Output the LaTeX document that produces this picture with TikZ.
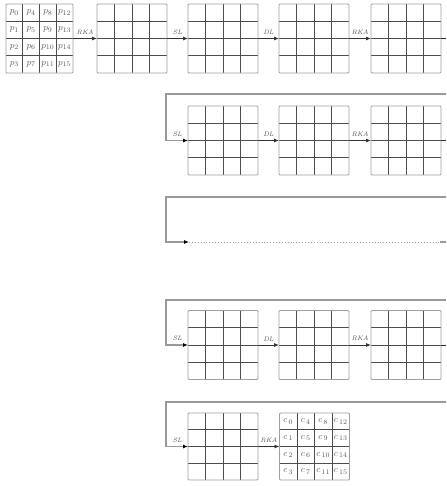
\documentclass[tikz,border=0pt]{standalone}
\usetikzlibrary{arrows.meta,calc}
\begin{document}
\begin{tikzpicture}[x=1pt,y=-1pt,
  gridlines/.style={black!70,line width=0.9pt},
  gridbox/.style={draw=gray!75, line width=0.9pt, rounded corners=1pt,
    minimum width=70pt, minimum height=69pt, inner sep=0pt, outer sep=0pt,
    path picture={\foreach \f in {0.25,0.5,0.75}{
      \draw[gridlines] ($(path picture bounding box.south west)!\f!(path picture bounding box.south east)$) -- ($(path picture bounding box.north west)!\f!(path picture bounding box.north east)$);
      \draw[gridlines] ($(path picture bounding box.south west)!\f!(path picture bounding box.north west)$) -- ($(path picture bounding box.south east)!\f!(path picture bounding box.north east)$);}}},
  flow/.style={black!80, line width=0.8pt, -{Latex[length=5pt,width=4pt]}},
  loopline/.style={gray!80, line width=1.3pt},
  looparrow/.style={gray!80, line width=1.3pt, -{Latex[length=5pt,width=4pt,color=black]}},
  lab/.style={font=\fontsize{6.5}{7}\selectfont\itshape, text=black!70, inner sep=1pt, above=2.5pt},
  celltxt/.style={font=\fontsize{9.5}{10}\selectfont, text=black!65, inner sep=0pt}
]
\useasboundingbox (0,0) rectangle (446,486);

% ---------- row 1 ----------
\node[gridbox, minimum width=67pt] (in) at (39.5,38.5) {};
\foreach \c in {0,...,3}{\foreach \r in {0,...,3}{
  \pgfmathtruncatemacro\k{4*\c+\r}
  \node[celltxt] (p\k) at ($(in.north west)+(\c*16.75+8.4,\r*17.25+8.6)$) {$p_{\k}$};
}}
\node[gridbox] (g11) at (132,38.5) {};
\node[gridbox] (g12) at (223,38.5) {};
\node[gridbox] (g13) at (314,38.5) {};
\node[gridbox] (g14) at (406,38.5) {};
\coordinate (e1) at (446,38.5);
\draw[flow] (in.east) -- node[lab]{RKA} (g11.west);
\draw[flow] (g11.east) -- node[lab]{SL} (g12.west);
\draw[flow] (g12.east) -- node[lab]{DL} (g13.west);
\draw[flow] (g13.east) -- node[lab]{RKA} (g14.west);
\draw[black!80, line width=0.8pt] (g14.east) -- (e1);

% ---------- row 2 ----------
\node[gridbox] (g21) at (223,140.5) {};
\node[gridbox] (g22) at (314,140.5) {};
\node[gridbox] (g23) at (406,140.5) {};
\coordinate (r2) at (446,94);
\coordinate (k2) at (166,94);
\coordinate (e2) at (446,140.5);
\draw[looparrow] (r2) -- (k2) |- (g21.west) node[lab,pos=0.76]{SL};
\draw[flow] (g21.east) -- node[lab]{DL} (g22.west);
\draw[flow] (g22.east) -- node[lab]{RKA} (g23.west);
\draw[black!80, line width=0.8pt] (g23.east) -- (e2);

% ---------- row 3 ----------
\coordinate (r3) at (446,197);
\coordinate (k3) at (166,197);
\coordinate (d3) at (189,242);
\coordinate (d4) at (440,242);
\coordinate (e3) at (446,242);
\draw[looparrow] (r3) -- (k3) |- (d3);
\draw[gray!70, line width=0.9pt, dotted] (d3) -- (d4);
\draw[loopline] (d4) -- (e3);

% ---------- row 4 ----------
\node[gridbox] (g41) at (223,345) {};
\node[gridbox] (g42) at (314,345) {};
\node[gridbox] (g43) at (406,345) {};
\coordinate (r4) at (446,300);
\coordinate (k4) at (166,300);
\coordinate (e4) at (446,345);
\draw[looparrow] (r4) -- (k4) |- (g41.west) node[lab,pos=0.76]{SL};
\draw[flow] (g41.east) -- node[lab]{DL} (g42.west);
\draw[flow] (g42.east) -- node[lab]{RKA} (g43.west);
\draw[black!80, line width=0.8pt] (g43.east) -- (e4);

% ---------- row 5 ----------
\node[gridbox, minimum height=67pt] (g51) at (223,446.5) {};
\node[gridbox, minimum height=67pt] (out) at (314.5,446.5) {};
\foreach \c in {0,...,3}{\foreach \r in {0,...,3}{
  \pgfmathtruncatemacro\k{4*\c+\r}
  \node[celltxt] (c\k) at ($(out.north west)+(\c*17.5+8.75,\r*16.75+8.4)$) {$c_{\,\k}$};
}}
\coordinate (r5) at (446,402);
\coordinate (k5) at (166,402);
\draw[looparrow] (r5) -- (k5) |- (g51.west) node[lab,pos=0.76]{SL};
\draw[flow] (g51.east) -- node[lab]{RKA} (out.west);
\end{tikzpicture}
\end{document}
